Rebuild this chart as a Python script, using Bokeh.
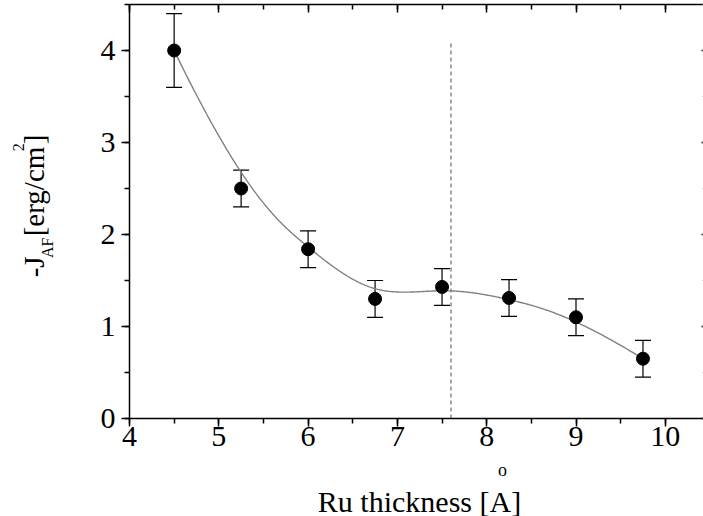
import numpy as np
from bokeh.plotting import figure
from bokeh.layouts import row, column
from bokeh.models import (ColumnDataSource, Whisker, TeeHead,
                          LinearAxis, SingleIntervalTicker, Range1d,
                          CustomJSTickFormatter)
from bokeh.embed import file_html
from bokeh.resources import INLINE
from bokeh.core.properties import value

# ---- data ----
thickness = [4.5, 5.25, 6.0, 6.75, 7.5, 8.25, 9.0, 9.75]
jaf = [4.0, 2.5, 1.84, 1.30, 1.43, 1.31, 1.10, 0.65]
jaf_err = [0.40, 0.20, 0.20, 0.20, 0.20, 0.20, 0.20, 0.20]
marker_line_x = 7.6
marker_line_top = 4.1
x_title = "Ru thickness [A]"
y_title_parts = ["-J", "AF", "[erg/cm", "2", "]"]

# ---- layout constants (pixels) ----
W, H = 703, 516
YT_W = 60
MAIN_H = 460
LEFT, TOP, FRAME_BOTTOM = 129, 4, 418
X0, X1 = 4.0, 4.0 + (W - LEFT) / 89.3
Y0, Y1 = 0.0, 4.5
FONT = "Liberation Serif"


# ---- clamped cubic B-spline using the data points as control points ----
def bspline(px_, py_, n=400):
    P = np.column_stack([px_, py_]).astype(float)
    m = len(P)
    nseg = m - 3
    t = np.concatenate([[0, 0, 0], np.arange(nseg + 1), [nseg] * 3]).astype(float)
    out = []
    for u in np.linspace(0, nseg, n):
        k = min(int(np.floor(u)), nseg - 1) + 3
        d = [P[j + k - 3].copy() for j in range(4)]
        for r in range(1, 4):
            for j in range(3, r - 1, -1):
                den = t[j + 1 + k - r] - t[j + k - 3]
                a = 0.0 if den == 0 else (u - t[j + k - 3]) / den
                d[j] = (1 - a) * d[j - 1] + a * d[j]
        out.append(d[3])
    out = np.array(out)
    return out[:, 0], out[:, 1]


cx, cy = bspline(thickness, jaf)


def blank_fig(w, h):
    f = figure(width=w, height=h, x_range=Range1d(0, w), y_range=Range1d(0, h),
               x_axis_type=None, y_axis_type=None,
               output_backend="svg", toolbar_location=None,
               min_border=0, min_border_left=0, min_border_right=0,
               min_border_top=0, min_border_bottom=0)
    f.grid.visible = False
    f.outline_line_color = None
    f.background_fill_color = "white"
    f.border_fill_color = "white"
    return f


# ---------------- main plot ----------------
p = figure(width=W - YT_W, height=MAIN_H, x_range=Range1d(X0, X1),
           y_range=Range1d(Y0, Y1), output_backend="svg", toolbar_location=None,
           min_border_left=LEFT - YT_W, min_border_right=0, min_border_top=TOP,
           min_border_bottom=MAIN_H - FRAME_BOTTOM)
p.outline_line_color = None
p.xgrid.visible = False
p.ygrid.visible = False
p.background_fill_color = "white"
p.border_fill_color = "white"

for ax in (p.xaxis[0], p.yaxis[0]):
    ax.ticker = SingleIntervalTicker(interval=1, num_minor_ticks=2)
    ax.axis_line_color = "black"
    ax.axis_line_width = 1.5
    ax.major_tick_line_color = "black"
    ax.major_tick_line_width = 1.5
    ax.minor_tick_line_color = "black"
    ax.minor_tick_line_width = 1.5
    ax.major_tick_out = 8
    ax.major_tick_in = 0
    ax.minor_tick_out = 5
    ax.minor_tick_in = 0
    ax.major_label_text_font = FONT
    ax.major_label_text_font_size = "30px"
    ax.major_label_text_color = "black"
    ax.axis_label = None
p.xaxis[0].major_label_standoff = 0
p.yaxis[0].major_label_standoff = 6

blank = CustomJSTickFormatter(code="return ''")
top_ax = LinearAxis(ticker=SingleIntervalTicker(interval=1, num_minor_ticks=2),
                    formatter=blank, major_label_standoff=0,
                    major_tick_out=0, major_tick_in=8, minor_tick_out=0,
                    minor_tick_in=5, axis_line_width=1.5,
                    major_tick_line_width=1.5, minor_tick_line_width=1.5)
p.add_layout(top_ax, "above")
right_ax = LinearAxis(ticker=SingleIntervalTicker(interval=1, num_minor_ticks=2),
                      formatter=blank, major_label_standoff=0,
                      axis_line_color=None, major_tick_out=0, major_tick_in=2,
                      minor_tick_out=0, minor_tick_in=1,
                      major_tick_line_width=1.5, minor_tick_line_color="#999999")
p.add_layout(right_ax, "right")

p.segment(x0=[marker_line_x], y0=[0], x1=[marker_line_x], y1=[marker_line_top],
          line_color="#777777", line_width=1.3, line_dash="4 3")

p.line(cx, cy, line_color="#808080", line_width=1.4)

src = ColumnDataSource(dict(
    x=thickness, y=jaf,
    upper=[v + e for v, e in zip(jaf, jaf_err)],
    lower=[v - e for v, e in zip(jaf, jaf_err)]))
p.add_layout(Whisker(source=src, base="x", upper="upper", lower="lower",
                     line_color="black", line_width=1.2,
                     upper_head=TeeHead(size=16, line_color="black", line_width=1.2),
                     lower_head=TeeHead(size=16, line_color="black", line_width=1.2)))

p.scatter("x", "y", source=src, size=13, color="black")

# ---------------- y-title strip (pieces centred on their boxes) ----------------
yf = blank_fig(YT_W, MAIN_H)
MAIN, SMALL = 29, 16
lengths = [0.722 * MAIN, 1.278 * SMALL,
           (0.333 + 0.444 + 0.333 + 0.5 + 0.278 + 0.444 + 0.778) * MAIN,
           0.5 * SMALL, 0.333 * MAIN]
gaps_before = [0, 0.5, 0.25 * MAIN, 0, 0]
centres_x = [33, 47, 33, 18, 33]
sizes = [MAIN, SMALL, MAIN, SMALL, MAIN]
ypos = 302.0
ys, fs = [], []
for ln, gap, s in zip(lengths, gaps_before, sizes):
    ypos -= gap
    ys.append(MAIN_H - (ypos - ln / 2))
    fs.append(f"{s}px")
    ypos -= ln
ysrc = ColumnDataSource(dict(x=centres_x, y=ys, text=y_title_parts, fs=fs))
yf.text(x="x", y="y", text="text", source=ysrc, angle=np.pi / 2,
        text_font=value(FONT), text_font_size="fs", text_align="center",
        text_baseline="middle", text_color="black")

# ---------------- x-title strip ----------------
XT_H = H - MAIN_H
xf = blank_fig(W, XT_H)
xf.text(x=[419], y=[H - 501], text=[x_title], text_font=value(FONT),
        text_font_size=value("30px"), text_align="center",
        text_baseline="alphabetic", text_color="black")
xf.text(x=[502], y=[H - 469], text=["o"], text_font=value(FONT),
        text_font_size=value("18px"), text_align="center",
        text_baseline="alphabetic", text_color="black")

layout = column(row(yf, p, spacing=0), xf, spacing=0)
open("out.html", "w").write(file_html(layout, INLINE))
